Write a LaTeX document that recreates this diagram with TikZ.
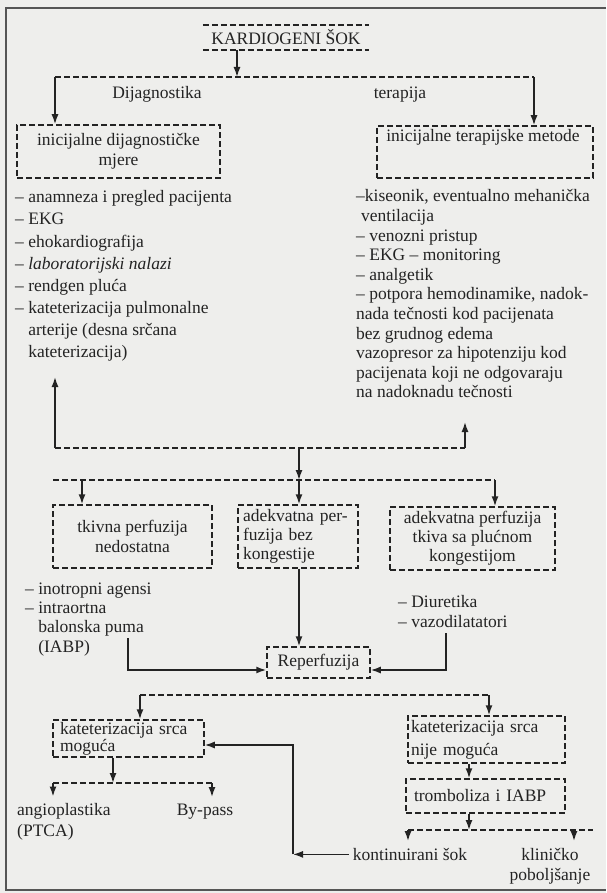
\documentclass[tikz,border=0pt]{standalone}
\usepackage{xcolor}
\usepackage{fontspec}
\setmainfont{Liberation Serif}
\usetikzlibrary{arrows.meta}
\definecolor{shockink}{RGB}{35, 35, 35}
\definecolor{shockpaper}{RGB}{238, 238, 236}
\definecolor{shockframe}{RGB}{85, 85, 85}

\tikzset{
    basefont/.style={font=\fontsize{17.5}{20}\selectfont, text=shockink},
    shockbox/.style={basefont, draw=shockink, line width=1.5pt, dash pattern=on 6pt off 3pt, inner sep=0pt, align=center},
    dashbus/.style={draw=shockink, line width=1.5pt, dash pattern=on 6pt off 3pt},
    flow/.style={draw=shockink, line width=1.5pt, -{Latex[length=10pt,width=7pt]}},
    plaintext/.style={basefont, inner sep=0pt},
    listtext/.style={basefont, inner sep=0pt, align=left, anchor=north west},
    labeltext/.style={basefont, inner xsep=4pt, inner ysep=7pt},
}

\begin{document}
\begin{tikzpicture}[x=1pt, y=-1pt]
    % Paper and frame
    \fill[shockpaper] (0,0) rectangle (606,893);
    \useasboundingbox (0,0) rectangle (606,893);
    \draw[line width=1.3pt, color=shockframe] (606,8) -- (6,8) -- (6,890) -- (606,890);

    % Top: the shock
    \node[plaintext, minimum width=166pt, minimum height=25pt] (shock) at (286,37.5) {KARDIOGENI ŠOK};
    \draw[dashbus] (shock.north west) -- (shock.north east);
    \draw[dashbus] (shock.south west) -- (shock.south east);
    \coordinate (topsplit) at (237,77);
    \coordinate (topbusL) at (55,77);
    \coordinate (topbusR) at (534,77);
    \draw[flow] (topsplit |- shock.south) -- (topsplit);
    \draw[dashbus] (topbusL) -- (topbusR);
    \node[plaintext] (diaglabel) at (157,94) {Dijagnostika};
    \node[plaintext] (therlabel) at (400,95) {terapija};

    % Initial measures
    \node[shockbox, minimum width=203pt, minimum height=53pt] (diagbox) at (118.5,151.5) {inicijalne dijagnostičke\\mjere};
    \node[shockbox, minimum width=216pt, minimum height=52pt] (therbox) at (485,152) {};
    \node[plaintext] (thertitle) at (483,137) {inicijalne terapijske metode};
    \draw[flow] (topbusL) -- (topbusL |- diagbox.north);
    \draw[flow] (topbusR) -- (topbusR |- therbox.north);

    \node[listtext, font=\fontsize{17.5}{22.1}\selectfont] (diaglist) at (15,190.5) {– anamneza i pregled pacijenta\\– EKG\\– ehokardiografija\\– \textit{laboratorijski nalazi}\\– rendgen pluća\\– kateterizacija pulmonalne\\\hphantom{– }arterije (desna srčana\\\hphantom{– }kateterizacija)};
    \node[listtext, font=\fontsize{17.5}{19.6}\selectfont] (therlist) at (356,189.5) {–kiseonik, eventualno mehanička\\\hspace*{5pt}ventilacija\\– venozni pristup\\– EKG – monitoring\\– analgetik\\– potpora hemodinamike, nadok-\\nada tečnosti kod pacijenata\\bez grudnog edema\\vazopresor za hipotenziju kod\\pacijenata koji ne odgovaraju\\na nadoknadu tečnosti};

    % Back up and on to perfusion
    \coordinate (diagtip) at (55,377);
    \coordinate (thertip) at (465,422);
    \coordinate (midbusL) at (55,448);
    \coordinate (midbusR) at (465,448);
    \coordinate (midsplit) at (299,448);
    \draw[dashbus] (midbusL) -- (midbusR);
    \draw[flow] (midbusL) -- (diagtip);
    \draw[flow] (midbusR) -- (thertip);

    \coordinate (branchstart) at (53,480);
    \coordinate (branchL) at (82,480);
    \coordinate (branchsplit) at (299,480);
    \coordinate (branchR) at (495,480);
    \draw[flow] (midsplit) -- (branchsplit);
    \draw[dashbus] (branchstart) -- (branchR);

    % Perfusion boxes
    \node[shockbox, minimum width=159pt, minimum height=63pt] (perfbox) at (132.5,536.5) {tkivna perfuzija\\nedostatna};
    \node[shockbox, text width=110pt, inner xsep=5pt, minimum height=63pt, align=left, font=\fontsize{17.5}{19}\selectfont] (adekbox) at (298,536.5) {adekvatna per-\\fuzija bez\\kongestije};
    \node[shockbox, minimum width=165pt, minimum height=63pt, font=\fontsize{17.5}{19}\selectfont] (kongbox) at (472.5,538.5) {adekvatna perfuzija\\tkiva sa plućnom\\kongestijom};
    \draw[flow] (branchL) -- (branchL |- perfbox.north);
    \draw[flow] (branchsplit) -- (branchsplit |- adekbox.north);
    \draw[flow] (branchR) -- (branchR |- kongbox.north);

    \node[listtext, font=\fontsize{17.5}{19.3}\selectfont] (inolist) at (25,582.5) {– inotropni agensi\\– intraortna\\\hphantom{– }balonska puma\\\hphantom{– }(IABP)};
    \node[listtext] (diurlist) at (398,595.5) {– Diuretika\\– vazodilatatori};

    % Reperfusion
    \node[shockbox, minimum width=103pt, minimum height=31pt] (repbox) at (318.5,662.5) {Reperfuzija};
    \coordinate (inoend) at (128,638);
    \coordinate (diurend) at (446,633);
    \draw[flow] (branchsplit |- adekbox.south) -- (branchsplit |- repbox.north);
    \draw[flow] (inoend) |- ([yshift=-7.5pt]repbox.west);
    \draw[flow] (diurend) |- ([yshift=-7.5pt]repbox.east);

    \coordinate (repbusL) at (140,695);
    \coordinate (repbusR) at (489,695);
    \draw[dashbus] (repbusL) -- (repbusR);

    % Catheterisation possible
    \node[shockbox, text width=137pt, inner xsep=7pt, minimum height=37pt, align=left, font=\fontsize{17.5}{14}\selectfont] (cathok) at (128.5,738.5) {kateterizacija srca\\moguća};
    \draw[flow] (repbusL) -- (repbusL |- cathok.north);
    \coordinate (oksplit) at (113,783);
    \coordinate (okbusL) at (53,783);
    \coordinate (okbusR) at (212,783);
    \draw[flow] (oksplit |- cathok.south) -- (oksplit);
    \draw[dashbus] (okbusL) -- (okbusR);
    \node[labeltext, anchor=north west, align=left, font=\fontsize{17.5}{21}\selectfont] (angio) at (13,796.5) {angioplastika\\(PTCA)};
    \node[labeltext, anchor=north] (bypass) at (205,797) {By-pass};
    \draw[flow] (okbusL) -- (okbusL |- angio.north);
    \draw[flow] (okbusR) -- (okbusR |- bypass.north);

    % Catheterisation not possible
    \node[shockbox, text width=151pt, inner xsep=3pt, minimum height=47pt, align=left, font=\fontsize{17.5}{23}\selectfont] (cathno) at (486.5,739.5) {kateterizacija srca\\nije moguća};
    \node[shockbox, text width=143pt, inner xsep=8pt, minimum height=34pt, align=left] (thrombo) at (485.5,796) {tromboliza i IABP};
    \draw[flow] (repbusR) -- (repbusR |- cathno.north);
    \coordinate (outbusL) at (408,830);
    \coordinate (outsplit) at (469,830);
    \coordinate (outbusR) at (574,830);
    \coordinate (outend) at (593,830);
    \draw[flow] (outsplit |- cathno.south) -- (outsplit |- thrombo.north);
    \draw[flow] (outsplit |- thrombo.south) -- (outsplit);
    \draw[dashbus] (outbusL) -- (outend);

    \node[labeltext, anchor=north] (kont) at (410,841) {kontinuirani šok};
    \node[labeltext, anchor=north, align=center] (klin) at (550,841) {kliničko\\poboljšanje};
    \draw[flow] (outbusL) -- (outbusL |- kont.north);
    \draw[flow] (outbusR) -- (outbusR |- klin.north);

    % Continued shock loops back
    \coordinate (loopback) at (293,0);
    \draw[flow] (kont.west) -- (kont.west -| loopback);
    \draw[flow] (kont.west -| loopback) |- ([yshift=-6.5pt]cathok.east);
\end{tikzpicture}
\end{document}
